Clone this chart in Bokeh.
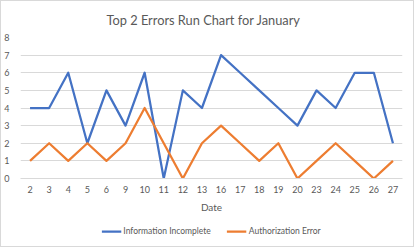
from bokeh.plotting import figure
from bokeh.layouts import column
from bokeh.models import Range1d, FactorRange, Legend, LegendItem, SingleIntervalTicker
from bokeh.embed import file_html
from bokeh.resources import INLINE

dates = ["2", "3", "4", "5", "6", "9", "10", "11", "12", "13",
         "16", "17", "18", "19", "20", "23", "24", "25", "26", "27"]
info_incomplete = [4, 4, 6, 2, 5, 3, 6, 0, 5, 4, 7, 6, 5, 4, 3, 5, 4, 6, 6, 2]
auth_error = [1, 2, 1, 2, 1, 2, 4, 2, 0, 2, 3, 2, 1, 2, 0, 1, 2, 1, 0, 1]
series_names = ["Information Incomplete", "Authorization Error"]
series_colors = ["#4472C4", "#ED7D31"]
series_values = [info_incomplete, auth_error]

TEXT = "#595959"
FONT = "Lato"

p = figure(width=412, height=214, x_range=FactorRange(*dates), y_range=Range1d(0, 8),
           output_backend="svg", toolbar_location=None,
           min_border_left=19, min_border_right=11, min_border_top=36, min_border_bottom=30,
           background_fill_color="white", border_fill_color="white")
p.outline_line_color = None

p.title.text = "Top 2 Errors Run Chart for January"
p.title.align = "left"
p.title.vertical_align = "top"
p.title.offset = 86
p.title.standoff = 15
p.title.text_font = FONT
p.title.text_font_size = "12.8px"
p.title.text_font_style = "normal"
p.title.text_color = TEXT

for vals, col in zip(series_values, series_colors):
    p.line(dates, vals, line_color=col, line_width=2.25, line_join="round")

p.xgrid.grid_line_color = None
p.ygrid.grid_line_color = "#d9d9d9"
p.ygrid.grid_line_width = 1
p.yaxis.ticker = SingleIntervalTicker(interval=1)

for ax in (p.xaxis[0], p.yaxis[0]):
    ax.axis_line_color = None
    ax.major_tick_line_color = None
    ax.minor_tick_line_color = None
    ax.major_label_text_font = FONT
    ax.major_label_text_font_size = "9px"
    ax.major_label_text_color = TEXT

p.xaxis.axis_line_color = "#d9d9d9"
p.xaxis.major_label_standoff = 1
p.yaxis.major_label_standoff = 5
p.xaxis.axis_label = "Date"
p.xaxis.axis_label_text_font = FONT
p.xaxis.axis_label_text_font_size = "10px"
p.xaxis.axis_label_text_font_style = "normal"
p.xaxis.axis_label_text_color = TEXT
p.xaxis.axis_label_standoff = 5

# legend strip (its lines lie outside the visible y range; only the legend shows)
lg = figure(width=412, height=31, output_backend="svg", toolbar_location=None,
            x_range=Range1d(0, 1), y_range=Range1d(100, 101),
            min_border=0, background_fill_color="white", border_fill_color="white")
lg.outline_line_color = None
lg.axis.visible = False
lg.grid.visible = False
items = []
for name, vals, col in zip(series_names, series_values, series_colors):
    r = lg.line(list(range(len(vals))), vals, line_color=col, line_width=2.25)
    items.append(LegendItem(label=name, renderers=[r]))
legend = Legend(items=items, orientation="horizontal", location="center",
                label_text_font=FONT, label_text_font_size="8.5px", label_text_color=TEXT,
                glyph_width=20, glyph_height=10, label_standoff=2, spacing=16,
                border_line_color=None, background_fill_alpha=0, padding=2, margin=0)
lg.add_layout(legend)

layout = column(p, lg, width=414, height=247, spacing=0,
                styles={"border": "1px solid #d9d9d9", "box-sizing": "border-box",
                        "background-color": "white"})

open("out.html", "w").write(file_html(layout, INLINE))
